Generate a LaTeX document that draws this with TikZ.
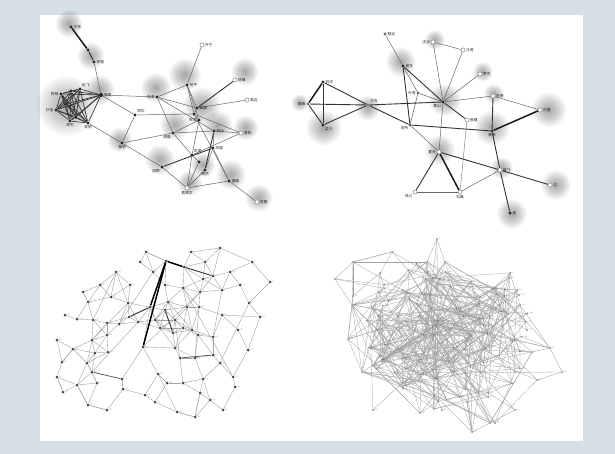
\documentclass[tikz,border=0pt]{standalone}
\usepackage{fontspec}
\newfontfamily\cjk{Noto Sans CJK SC}
\pgfdeclarelayer{bg}
\pgfdeclarelayer{glowl}
\pgfdeclarelayer{edgel}
\pgfsetlayers{bg,glowl,edgel,main}
\definecolor{framecol}{RGB}{213,223,230}
\newcount\ptcnt

\tikzset{
  nm/.style={font=\cjk\fontsize{3.7}{4}\selectfont, inner sep=0.6pt, text=black!85},
  tn/.style={font=\fontsize{2.1}{2.3}\selectfont, inner sep=0.3pt, text=black!50},
  bd/.style={circle, fill=black!85, inner sep=0pt, minimum size=3.4pt},
  gd/.style={circle, fill=black!55, inner sep=0pt, minimum size=3.4pt},
  wd/.style={circle, draw=black!55, fill=white, line width=0.45pt, inner sep=0pt, minimum size=4.2pt},
  sd/.style={circle, fill=black!70, inner sep=0pt, minimum size=2.6pt},
  td/.style={circle, fill=black!72, inner sep=0pt, minimum size=3pt},
  qd/.style={circle, fill=black!50, inner sep=0pt, minimum size=2pt},
  e1/.style={draw=black!60, line width=0.5pt},
  ek/.style={draw=black!80, line width=0.65pt},
  e2/.style={draw=black!80, line width=0.9pt},
  e3/.style={draw=black!90, line width=1.5pt},
  tl/.style={draw=black!36, line width=0.4pt},
  ql/.style={draw=black!36, line width=0.3pt},
}
% soft grey halo: x, y, radius
\newcommand\halo[3]{%
  \foreach \s in {1,...,16}{\fill[black, opacity=0.024] (#1,#2) circle ({1.25*#3*\s/16});}}

\begin{document}
\begin{tikzpicture}[x=1pt,y=-1pt]
\useasboundingbox (0,0) rectangle (615,454);
\begin{pgfonlayer}{bg}
\fill[framecol] (0,0) rectangle (615,454);
\fill[white] (40,15) rectangle (583,441);
\end{pgfonlayer}

% ---------------- halos ----------------
\begin{pgfonlayer}{glowl}
\halo{69}{24}{11}\halo{91}{56}{11}\halo{67}{106}{24}\halo{100}{90}{12}
\halo{156}{88}{12}\halo{185}{75}{13}\halo{245}{72}{11}\halo{202}{106}{15}
\halo{175}{125}{12}\halo{218}{126}{12}\halo{246}{128}{10}\halo{160}{160}{12}
\halo{120}{140}{10}\halo{231}{175}{12}\halo{259}{198}{11}\halo{190}{183}{10}
\halo{203}{165}{10}
\halo{401}{62}{12}\halo{324}{128}{14}\halo{368}{108}{10}\halo{445}{100}{13}
\halo{435}{40}{8}\halo{300}{103}{7}\halo{549}{110}{14}\halo{492}{128}{14}
\halo{440}{150}{12}\halo{502}{168}{9}\halo{556}{185}{12}\halo{512}{214}{12}
\halo{483}{72}{8}\halo{494}{94}{8}
\end{pgfonlayer}

% ---------------- network 1 ----------------
\node[bd, label={[nm]right:王林}] (a1) at (71,27) {};
\node[bd] (a2) at (88,50) {};
\node[bd, label={[nm]right:李强}] (a3) at (94,62) {};
\node[bd, label={[nm]left:陈明}] (k1) at (61,94) {};
\node[bd] (k2) at (71,91) {};
\node[bd, label={[nm]above right:赵飞}] (k3) at (80,89) {};
\node[bd, label={[nm]left:孙浩}] (k4) at (56,110) {};
\node[bd] (k5) at (66,104) {};
\node[bd, label={[nm]below:周杰}] (k6) at (70,121) {};
\node[bd] (k7) at (76,117) {};
\node[bd, label={[nm]below:吴刚}] (k8) at (88,123) {};
\node[bd, minimum size=4pt, label={[nm]right:张军}] (k9) at (101,95) {};
\node[bd, label={[nm]above right:郑华}] (n1) at (135,115) {};
\node[bd, label={[nm]left:冯涛}] (n2) at (157,97) {};
\node[bd, label={[nm]right:何平}] (n3) at (187,85) {};
\node[wd, label={[nm]right:许宁}] (n4) at (202,45) {};
\node[wd, label={[nm]right:林峰}] (n5) at (235,80) {};
\node[wd, label={[nm]right:高远}] (n6) at (247,100) {};
\node[bd, label={[nm]right:梁晨}] (n7) at (197,108) {};
\node[bd] (n8) at (194,114) {};
\node[bd, label={[nm]left:宋洋}] (m1) at (199,120) {};
\node[bd, label={[nm]below left:唐磊}] (n9) at (173,133) {};
\node[bd, label={[nm]right:韩冰}] (n11) at (214,131) {};
\node[wd, label={[nm]right:曹阳}] (n12) at (241,133) {};
\node[bd, label={[nm]above right:彭亮}] (n13) at (192,155) {};
\node[bd, label={[nm]right:邓超}] (n14) at (213,148) {};
\node[bd, label={[nm]below:萧然}] (n15) at (205,170) {};
\node[bd] (n16) at (199,162) {};
\node[bd, label={[nm]below left:田野}] (n17) at (162,167) {};
\node[bd, label={[nm]below:董明}] (n18) at (122,143) {};
\node[wd, label={[nm]below:袁博文}] (n19) at (187,188) {};
\node[bd, label={[nm]right:潘越}] (n20) at (229,181) {};
\node[wd, label={[nm]right:蒋雷}] (n21) at (257,202) {};

\begin{pgfonlayer}{edgel}
\draw[e3] (a1)--(a2);
\draw[e2] (a2)--(a3);
\draw[e1] (a3)--(k9);
\foreach \i in {1,...,8}{\foreach \j in {\i,...,9}{\ifnum\i<\j \draw[ek] (k\i)--(k\j);\fi}}
\foreach \u/\v in {k9/n2,k9/n1,k8/n18,n1/n18,n1/n8,n2/n3,n2/n7,n2/n9,n2/n11,n3/n4,
  n3/n7,n3/m1,n3/n8,n7/n6,n7/n8,n8/m1,n8/n12,n8/n20,m1/n13,n9/m1,n9/n11,n9/n18,n9/n13,
  n18/n17,n17/n19,n13/n19,n13/n12,n11/n14,n14/n15,n14/n20,n15/n19,n16/n19,n16/n13,
  n20/n21,n19/n20,n11/n12}
  \draw[e1] (\u)--(\v);
\draw[e2] (n7)--(n5);
\draw[e2] (n17)--(n14);
\draw[e2] (n11)--(n15);
\end{pgfonlayer}

% ---------------- network 2 ----------------
\node[bd, label={[nm]right:刘洋}] (p1) at (323,82) {};
\node[gd, label={[nm]left:高峰}] (p2) at (308,104) {};
\node[bd, label={[nm]below right:孟凡}] (p3) at (323,125) {};
\node[gd, label={[nm]above right:方舟}] (p4) at (368,105) {};
\node[gd, label={[nm]right:程远}] (p5) at (385,34) {};
\node[bd, label={[nm]right:谢东}] (p6) at (403,66) {};
\node[sd, label={[nm]left:叶青}] (p7) at (418,93) {};
\node[bd, label={[nm]below left:黄山}] (p8) at (443,102) {};
\node[wd, label={[nm]left:沈冰}] (p9) at (433,42) {};
\node[wd, label={[nm]right:汪涛}] (p10) at (463,50) {};
\node[wd, label={[nm]right:罗杰}] (p11) at (480,74) {};
\node[wd, label={[nm]right:苏明}] (p12) at (493,96) {};
\node[wd, label={[nm]right:白雪}] (p13) at (540,110) {};
\node[wd, label={[nm]right:崔健}] (p14) at (467,120) {};
\node[sd, label={[nm]below left:范伟}] (p15) at (410,125) {};
\node[bd, label={[nm]below:魏来}] (p16) at (492,131) {};
\node[wd, label={[nm]left:夏天}] (p17) at (439,152) {};
\node[wd, label={[nm]right:薛飞}] (p18) at (500,170) {};
\node[wd, label={[nm]below left:钱江}] (p19) at (415,192) {};
\node[wd, label={[nm]below:石磊}] (p20) at (460,192) {};
\node[wd, label={[nm]right:江}] (p21) at (550,185) {};
\node[bd, label={[nm]right:金}] (p22) at (510,213) {};

\begin{pgfonlayer}{edgel}
\foreach \u/\v in {p15/p17,p5/p6,p6/p7,p7/p15,p7/p8,p8/p9,p8/p10,p9/p10,p8/p11,
  p8/p12,p8/p17,p12/p13,p19/p20,p20/p18}
  \draw[e1] (\u)--(\v);
\draw[e1, line width=0.35pt] (p14)--(p20);
\foreach \u/\v in {p1/p3,p2/p3,p1/p4,p2/p4,p3/p4,p4/p8,p4/p15,p6/p8,p6/p15,p8/p14,
  p12/p16,p15/p16,p16/p18,p17/p18,p18/p21,p17/p19,p18/p22}
  \draw[e2] (\u)--(\v);
\draw[e3] (p1)--(p2);
\draw[e3] (p13)--(p16);
\draw[e3] (p17)--(p20);
\end{pgfonlayer}

% ---------------- network 3 ----------------
\foreach \x/\y [count=\k] in {146/252,166/261,184/267,191/252,220/248,252/262,270/282,
  249/303,222/290,213/276,203/279,200/292,183/288,165/285,153/272,116/272,83/292,88/302,
  111/297,128/303,150/307,168/302,187/307,199/307,222/315,260/317,65/315,77/319,93/320,
  107/323,119/324,129/317,138/322,155/320,160/328,175/320,183/328,192/330,198/335,213/337,
  143/347,92/340,107/335,73/349,95/353,108/352,87/363,62/362,92/372,57/377,77/385,97/383,
  122/379,123/389,158/374,167/383,183/383,203/379,233/377,235/387,200/393,175/348,180/358,
  195/358,213/355,220/363,248/350,177/412,195/417,223/410,88/405,107/410,63/392,165/310,
  173/333,140/262,205/262,230/272,240/285,100/285,130/285,145/395,
  210/400,155/402,238/330,57/340}{%
  \expandafter\xdef\csname tx\k\endcsname{\x}%
  \expandafter\xdef\csname ty\k\endcsname{\y}%
  \node[td, label={[tn]right:\k}] (t\k) at (\x,\y) {};}

\begin{pgfonlayer}{edgel}
\foreach \i in {1,...,86}{\foreach \j in {\i,...,86}{%
  \ifnum\i<\j
    \pgfmathsetmacro\qdist{veclen(\csname tx\i\endcsname-\csname tx\j\endcsname,\csname ty\i\endcsname-\csname ty\j\endcsname)}%
    \ifdim\qdist pt<25pt \draw[tl] (t\i)--(t\j);\fi
  \fi}}
\foreach \u/\v in {4/5,5/6,6/7,7/8,5/10,16/20,16/19,41/53,41/55,41/21,55/68,68/69,61/69,
  60/70,67/26,67/59,26/25,17/18,44/48,50/73,71/72,71/51,72/54,53/54,3/12,1/2,
  41/12,16/29,20/42,33/49,36/57,24/64,9/40,13/59,8/66,41/62,15/31,22/38}
  \draw[tl] (t\u)--(t\v);
\draw[e3, draw=black] (t2)--(t21);
\draw[e3, draw=black] (t2)--(t41);
\draw[e3, draw=black] (t2)--(t3);
\draw[e2] (t3)--(t10);
\draw[e2] (t21)--(t32);
\draw[e2] (t74)--(t75);
\draw[e2, draw=black!70, line width=0.7pt] (t63)--(t65);
\draw[e2, draw=black!70, line width=0.7pt] (t49)--(t53);
\end{pgfonlayer}

% ---------------- network 4 ----------------
\global\ptcnt=0
\foreach \x/\y in {437/239,335/279,353/262,392/252,380/273,408/270,427/262,445/262,
  510/273,520/305,550/348,562/372,537/380,515/372,472/432,490/423,495/423,515/410,
  373/410,402/383,362/372,348/339,353/296,352/305,377/330,420/413,442/410,467/402}{%
  \global\advance\ptcnt by 1
  \expandafter\xdef\csname qx\the\ptcnt\endcsname{\x}%
  \expandafter\xdef\csname qy\the\ptcnt\endcsname{\y}}
\pgfmathsetseed{5}
\foreach \k in {1,...,120}{%
  \pgfmathsetmacro\qrad{pow(0.002+rnd,0.6)}%
  \pgfmathsetmacro\qang{360*rnd}%
  \pgfmathsetmacro\qxv{450+90*\qrad*cos(\qang)}%
  \pgfmathsetmacro\qyv{336+78*\qrad*sin(\qang)}%
  \global\advance\ptcnt by 1
  \expandafter\xdef\csname qx\the\ptcnt\endcsname{\qxv}%
  \expandafter\xdef\csname qy\the\ptcnt\endcsname{\qyv}}
\xdef\qtot{\the\ptcnt}
\foreach \k in {1,...,\qtot}{%
  \node[qd, label={[tn]right:\k}] (q\k) at (\csname qx\k\endcsname,\csname qy\k\endcsname) {};}

\begin{pgfonlayer}{edgel}
\foreach \i in {1,...,\qtot}{\foreach \qtry in {1,...,7}{%
  \pgfmathtruncatemacro\qj{random(1,\qtot)}%
  \pgfmathsetmacro\qdist{veclen(\csname qx\i\endcsname-\csname qx\qj\endcsname,\csname qy\i\endcsname-\csname qy\qj\endcsname)}%
  \ifdim\qdist pt<85pt \ifnum\i=\qj\else\draw[ql] (q\i)--(q\qj);\fi\fi}}
\foreach \u/\v in {1/7,2/3,3/4,4/6,2/24,11/12,12/13,11/10,15/16,16/18,15/28,19/20,
  21/22,23/24,4/5}
  \draw[ql] (q\u)--(q\v);
\end{pgfonlayer}
\end{tikzpicture}
\end{document}
